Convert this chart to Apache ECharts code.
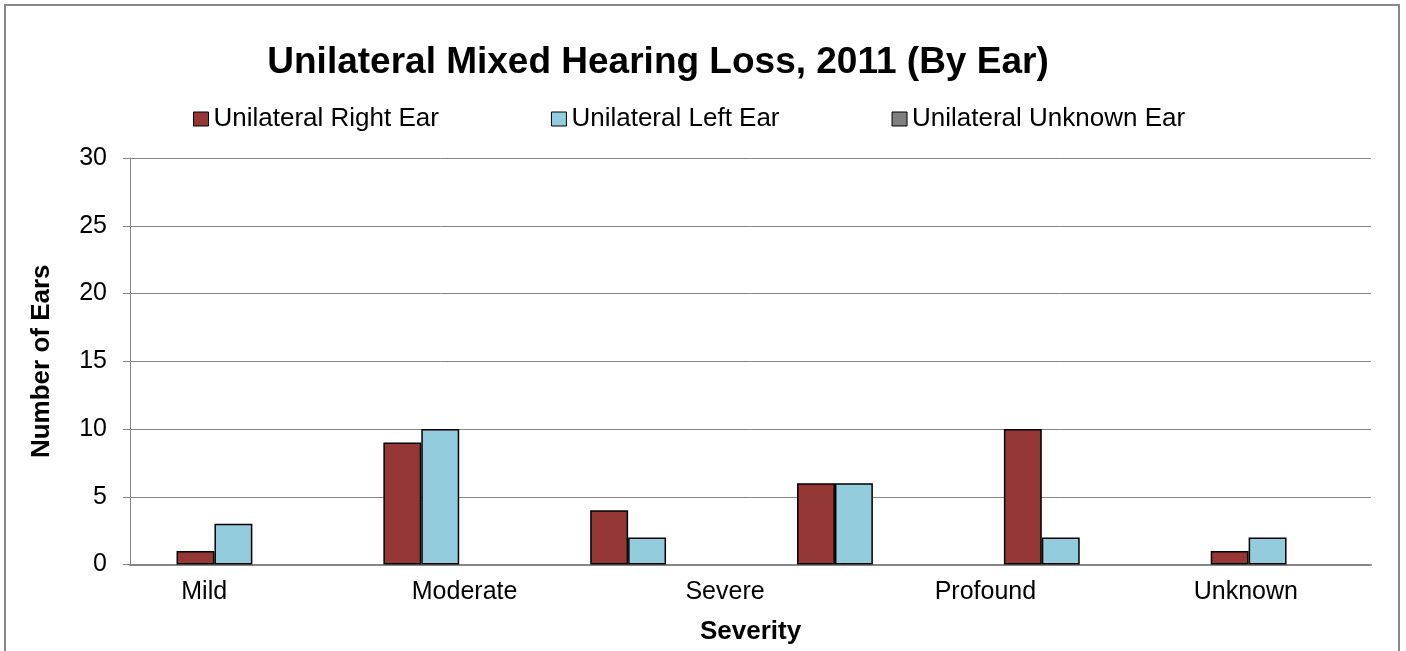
<!DOCTYPE html>
<html>
<head>
<meta charset="utf-8">
<script src="https://cdn.jsdelivr.net/npm/echarts@6/dist/echarts.min.js"></script>
<style>
  html, body { margin: 0; padding: 0; background: #fff; }
  #chart { width: 1406px; height: 651px; }
</style>
</head>
<body>
<div id="chart"></div>
<script>
// bar groups on the category axis (6 slots, labels drawn on the separate tick axis)
var barSlots = ["1", "2", "3", "4", "5", "6"];
// tick labels shown under the axis
var tickLabels = ["Mild", "Moderate", "Severe", "Profound", "Unknown"];
var rightEar = [1, 9, 4, 6, 10, 1];
var leftEar = [3, 10, 2, 6, 2, 2];
var unknownEar = [0, 0, 0, 0, 0, 0];
var yTicks = [0, 5, 10, 15, 20, 25, 30];

var font = "Liberation Sans, Arial, sans-serif";
var gridColor = "#868686";
var chart = echarts.init(document.getElementById("chart"));

var option = {
  backgroundColor: "#fff",
  animation: false,
  title: {
    text: "Unilateral Mixed Hearing Loss, 2011 (By Ear)",
    left: 653,
    textAlign: "center",
    top: 39,
    textStyle: { fontFamily: font, fontSize: 37, fontWeight: "bold", color: "#000" }
  },
  legend: {
    left: 188,
    top: 101,
    itemWidth: 15,
    itemHeight: 14,
    itemGap: 112,
    icon: "rect",
    textStyle: { fontFamily: font, fontSize: 26, color: "#000" },
    data: [
      { name: "Unilateral Right Ear", itemStyle: { borderColor: "#000", borderWidth: 1 } },
      { name: "Unilateral Left Ear", itemStyle: { borderColor: "#000", borderWidth: 1 } },
      { name: "Unilateral Unknown Ear", itemStyle: { borderColor: "#000", borderWidth: 1 } }
    ]
  },
  grid: [
    { left: 130, right: 35, top: 158, bottom: 86.5 },
    { left: 74, right: 30, top: 158, bottom: 86.5 }
  ],
  xAxis: [{
    type: "category",
    gridIndex: 0,
    data: barSlots,
    axisLine: { lineStyle: { color: gridColor, width: 2 } },
    axisTick: { show: false },
    axisLabel: { show: false },
    name: "Severity",
    nameLocation: "middle",
    nameGap: 54,
    nameTextStyle: { fontFamily: font, fontSize: 26, fontWeight: "bold", color: "#000" }
  }, {
    type: "category",
    gridIndex: 1,
    data: tickLabels,
    axisLine: { show: false },
    axisTick: { show: false },
    axisLabel: { fontFamily: font, fontSize: 25, color: "#000", margin: 15 }
  }],
  yAxis: [{
    type: "value",
    gridIndex: 0,
    min: yTicks[0],
    max: yTicks[yTicks.length - 1],
    interval: 5,
    axisLine: { show: true, lineStyle: { color: gridColor, width: 1 } },
    axisTick: { show: true, length: 7, lineStyle: { color: gridColor } },
    splitLine: { lineStyle: { color: gridColor, width: 1 } },
    axisLabel: { fontFamily: font, fontSize: 25, color: "#000", margin: 23 },
    name: "Number of Ears",
    nameLocation: "middle",
    nameGap: 75,
    nameTextStyle: { fontFamily: font, fontSize: 26, fontWeight: "bold", color: "#000" }
  }, {
    type: "value",
    gridIndex: 1,
    min: 0,
    max: 30,
    show: false
  }],
  series: [{
    name: "Unilateral Right Ear",
    type: "bar",
    data: rightEar,
    barGap: "0%",
    barCategoryGap: "45%",
    itemStyle: { color: "#953735", borderColor: "#000", borderWidth: 1.5 }
  }, {
    name: "Unilateral Left Ear",
    type: "bar",
    data: leftEar,
    barGap: "0%",
    barCategoryGap: "45%",
    itemStyle: { color: "#93CDDD", borderColor: "#000", borderWidth: 1.5 }
  }, {
    name: "Unilateral Unknown Ear",
    type: "bar",
    data: unknownEar,
    barGap: "0%",
    barCategoryGap: "45%",
    itemStyle: { color: "#7F7F7F", borderWidth: 0 }
  }],
  graphic: [{
    type: "rect",
    shape: { x: 5, y: 5, width: 1394, height: 700 },
    style: { fill: null, stroke: "#888", lineWidth: 2 },
    silent: true
  }]
};

chart.setOption(option);
</script>
</body>
</html>
